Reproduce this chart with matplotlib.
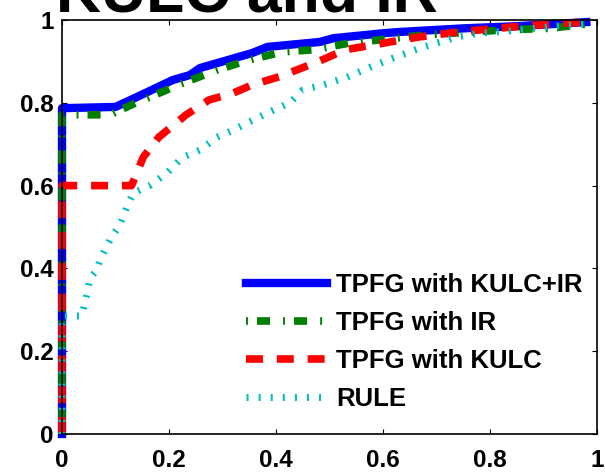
import matplotlib
matplotlib.use("Agg")
from matplotlib import pyplot as plt

plt.rcParams['font.family'] = ['Liberation Sans', 'DejaVu Sans']
plt.rcParams['font.weight'] = 'bold'
plt.rcParams['lines.scale_dashes'] = False

# curves (false positive rate vs. true positive rate)
kulc_ir_x = [0, 0, 0.10, 0.14, 0.207, 0.239, 0.258, 0.355, 0.384, 0.482, 0.507, 0.60, 0.63, 0.753, 0.85, 0.98]
kulc_ir_y = [0, 0.787, 0.79, 0.814, 0.855, 0.867, 0.884, 0.92, 0.935, 0.947, 0.956, 0.968, 0.971, 0.98, 0.985, 0.995]

ir_x = [0, 0, 0.09, 0.138, 0.174, 0.217, 0.29, 0.348, 0.413, 0.47, 0.536, 0.594, 0.68, 0.826, 0.912, 0.98]
ir_y = [0, 0.771, 0.771, 0.80, 0.819, 0.843, 0.879, 0.903, 0.923, 0.928, 0.944, 0.952, 0.964, 0.976, 0.98, 0.99]

kulc_x = [0, 0, 0.13, 0.152, 0.181, 0.232, 0.275, 0.319, 0.355, 0.406, 0.478, 0.529, 0.60, 0.667, 0.739, 0.84, 0.913, 0.98]
kulc_y = [0, 0.60, 0.60, 0.669, 0.717, 0.771, 0.807, 0.823, 0.843, 0.863, 0.899, 0.928, 0.944, 0.959, 0.971, 0.983, 0.99, 0.995]

rule_x = [0, 0, 0.037, 0.047, 0.052, 0.065, 0.071, 0.08, 0.09, 0.099, 0.108, 0.114, 0.121, 0.133, 0.164,
          0.196, 0.224, 0.258, 0.29, 0.32, 0.383, 0.426, 0.45, 0.488, 0.533, 0.576, 0.619, 0.669, 0.707,
          0.738, 0.78, 0.85, 0.92, 0.98]
rule_y = [0, 0.285, 0.285, 0.34, 0.376, 0.396, 0.42, 0.444, 0.469, 0.488, 0.505, 0.524, 0.548, 0.582, 0.60,
          0.63, 0.667, 0.686, 0.717, 0.734, 0.775, 0.80, 0.831, 0.843, 0.862, 0.886, 0.908, 0.932, 0.947,
          0.959, 0.968, 0.975, 0.985, 0.99]

labels = ["TPFG with KULC+IR", "TPFG with IR", "TPFG with KULC", "RULE"]
ticks = [0, 0.2, 0.4, 0.6, 0.8, 1]
tick_labels = ["0", "0.2", "0.4", "0.6", "0.8", "1"]

fig = plt.figure(figsize=(6.05, 4.75), dpi=100)
ax = fig.add_axes([62/605, 41/475, 535/605, 414/475])

ax.plot(kulc_ir_x, kulc_ir_y, color='#0000ff', lw=6, label=labels[0], clip_on=False)
ax.plot(ir_x, ir_y, color='#008000', lw=5.5, dashes=(1.4, 6.5, 9.4, 9.4), label=labels[1], clip_on=False)
ax.plot(kulc_x, kulc_y, color='#ff0000', lw=5.5, dashes=(12.2, 10), label=labels[2], clip_on=False)
ax.plot(rule_x, rule_y, color='#00bfbf', lw=5, dashes=(1.5, 7.2), label=labels[3], clip_on=False)

ax.set_xlim(0, 1)
ax.set_ylim(0, 1)
ax.set_xticks(ticks)
ax.set_xticklabels(tick_labels)
ax.set_yticks(ticks)
ax.set_yticklabels(tick_labels)
ax.tick_params(direction='in', top=True, right=True, length=3.6, width=0.8, labelsize=17.5)
ax.tick_params(axis='x', pad=11)
ax.tick_params(axis='y', pad=6)
for s in ax.spines.values():
    s.set_linewidth(1.2)

ax.legend(loc='upper left', bbox_to_anchor=(246/605, 202/475), bbox_transform=fig.transFigure,
          frameon=False, fontsize=18.5, handlelength=3.15, handletextpad=0.35,
          labelspacing=0.54, borderpad=0, borderaxespad=0)

fig.text(56/605, 464/475, "KULC and IR", fontsize=45, fontweight='bold', ha='left', va='baseline')

fig.savefig("out.png", dpi=100)
